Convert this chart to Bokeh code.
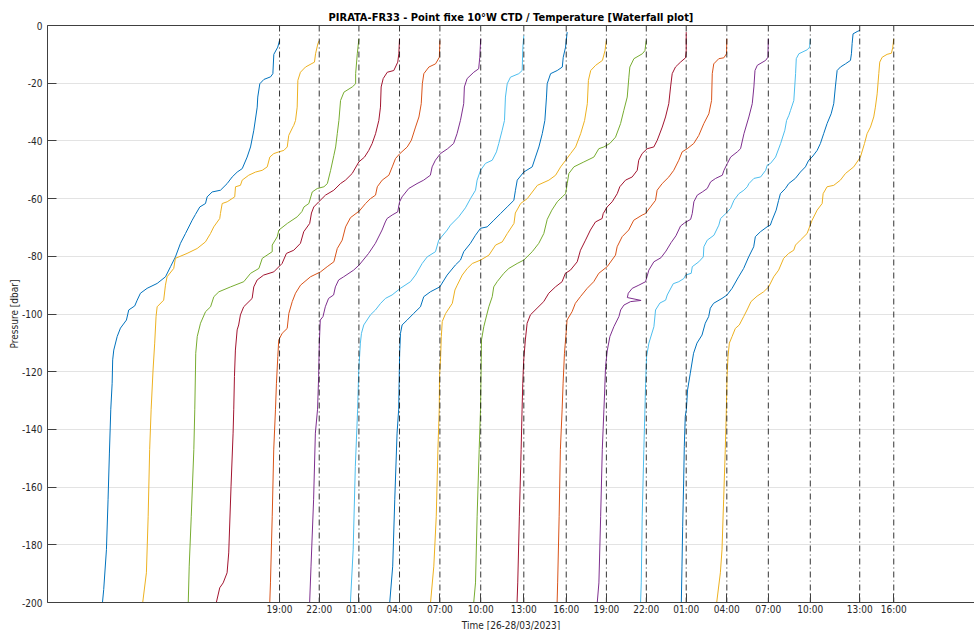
from bokeh.plotting import figure
from bokeh.models import Range1d, FixedTicker, LinearAxis, Title
from bokeh.embed import file_html
from bokeh.resources import INLINE

# ---------------- data ----------------
# profile times, minutes since 26/03/2023 00:00
profile_time_min = [1140, 1315, 1490, 1669, 1847, 2027, 2217, 2404,
                    2581, 2757, 2933, 3112, 3295, 3480, 3698, 3848]
tick_labels = ["19:00", "22:00", "01:00", "04:00", "07:00", "10:00", "13:00", "16:00",
               "19:00", "22:00", "01:00", "04:00", "07:00", "10:00", "13:00", "16:00"]

# each profile: (pressure [dbar], horizontal waterfall offset [h] from profile time)
prof_01 = [(-5.2, 0), (-7.5, -0.13), (-10, -0.42), (-16.7, -0.49), (-17.8, -0.66), (-18.7, -1.15),
           (-20.2, -1.45), (-24.8, -1.60), (-28.3, -1.64), (-36.3, -1.89), (-42.1, -2.13), (-45.6, -2.38),
           (-49.6, -2.74), (-50.8, -3.11), (-52.5, -3.48), (-54.8, -3.85), (-57.1, -4.34), (-57.7, -4.95),
           (-59.4, -5.32), (-61.7, -5.44), (-62.9, -5.86), (-65.5, -6.18), (-67.5, -6.42), (-72.1, -6.91),
           (-75.5, -7.28), (-80.2, -7.65), (-83.6, -8.01), (-87.1, -8.38), (-89.4, -8.99), (-91.1, -9.73),
           (-92.8, -10.22), (-95.2, -10.46), (-97.2, -10.64), (-98.6, -11.08), (-102.1, -11.25),
           (-104.9, -11.69), (-107.8, -11.93), (-112.5, -12.18), (-115.9, -12.26), (-124, -12.30),
           (-133, -12.40), (-148.2, -12.50), (-164.4, -12.60), (-181.7, -12.72), (-195.5, -12.92),
           (-200, -13.01)]
prof_02 = [(-5.2, 0), (-6.3, -0.10), (-9.8, -0.27), (-12.7, -0.35), (-14.4, -1.01), (-16.2, -1.38),
           (-19.0, -1.57), (-28.3, -1.62), (-32.9, -1.74), (-34.6, -1.87), (-35.2, -1.94), (-38.1, -2.24),
           (-42.1, -2.35), (-43.3, -2.60), (-43.8, -2.97), (-44.4, -3.34), (-45.6, -3.63), (-49.0, -3.82),
           (-50.2, -4.19), (-50.8, -4.68), (-51.9, -5.18), (-53.6, -5.66), (-55.4, -5.79), (-55.9, -6.15),
           (-59.4, -6.21), (-61.1, -6.76), (-61.7, -7.13), (-65.2, -7.26), (-66.9, -7.31), (-69.8, -7.75),
           (-72.1, -7.99), (-75.0, -8.36), (-77.3, -8.97), (-79.0, -9.71), (-80.7, -10.57), (-84.2, -10.69),
           (-87.1, -11.18), (-90.0, -11.30), (-95.2, -11.43), (-97.5, -11.91), (-100.9, -11.99),
           (-110.1, -12.09), (-119.4, -12.21), (-133, -12.35), (-147, -12.46), (-170.1, -12.57),
           (-189.7, -12.70), (-200, -12.97)]
prof_03 = [(-4.6, 0), (-9.8, -0.12), (-16.7, -0.24), (-20.2, -0.24), (-21.3, -0.49), (-23.1, -1.10),
           (-26, -1.35), (-32.9, -1.47), (-37.5, -1.59), (-42.1, -1.71), (-45.0, -1.84), (-50.2, -2.08),
           (-54.8, -2.32), (-55.9, -2.57), (-56.5, -3.06), (-57.7, -3.43), (-61.7, -3.68), (-62.9, -4.04),
           (-64.5, -4.19), (-66.3, -4.53), (-68.6, -5.26), (-70.9, -5.88), (-73.2, -6.00), (-76.1, -6.37),
           (-78.4, -6.37), (-80.7, -7.10), (-84.2, -7.35), (-85.9, -7.96), (-88.8, -8.46), (-90.6, -9.43),
           (-92.3, -10.29), (-94.0, -10.66), (-97.5, -10.90), (-99.2, -11.27), (-103.2, -11.64),
           (-107.8, -11.88), (-113.6, -11.99), (-119.4, -12.01), (-133, -12.06), (-147, -12.13),
           (-170.1, -12.32), (-187.4, -12.47), (-200, -12.54)]
prof_04 = [(-4.6, 0), (-9.8, -0.05), (-12.7, -0.13), (-15.6, -0.42), (-16.2, -0.90), (-18.4, -1.20),
           (-21.3, -1.35), (-28.3, -1.40), (-32.9, -1.52), (-37.5, -1.76), (-40.9, -2.01), (-43.3, -2.26),
           (-45.6, -2.57), (-47.3, -2.99), (-51.3, -3.48), (-53.6, -3.97), (-54.8, -4.34), (-57.1, -4.83),
           (-58.8, -5.44), (-61.1, -5.93), (-62.9, -6.30), (-65.0, -6.47), (-68.6, -6.60), (-71.5, -7.04),
           (-75.5, -7.28), (-77.9, -7.77), (-79.0, -8.31), (-82.5, -8.63), (-85.4, -9.24), (-86.5, -9.98),
           (-88.2, -10.46), (-90.6, -10.71), (-94.6, -10.83), (-97.5, -11.45), (-100.3, -11.69),
           (-103.8, -11.82), (-105.5, -11.93), (-112.5, -12.06), (-121.7, -12.13), (-133, -12.18),
           (-141.3, -12.23), (-159.7, -12.38), (-182.8, -12.55), (-189.7, -12.67), (-193.2, -12.96),
           (-194.9, -13.21), (-200, -13.46)]
prof_05 = [(-5.2, 0), (-11.0, -0.04), (-13.3, -0.32), (-14.4, -0.81), (-16.7, -1.18), (-20.2, -1.29),
           (-27.1, -1.37), (-31.7, -1.54), (-35.2, -1.79), (-39.8, -2.10), (-42.1, -2.40), (-44.4, -2.94),
           (-46.1, -3.26), (-49.0, -3.50), (-51.9, -3.75), (-53.6, -4.24), (-55.9, -4.60), (-58.8, -4.73),
           (-60.0, -5.10), (-61.7, -5.46), (-64.3, -5.92), (-66.6, -6.57), (-69.8, -6.93), (-74.4, -7.18),
           (-77.3, -7.54), (-81.9, -7.79), (-83.6, -8.28), (-85.4, -8.77), (-87.1, -9.51), (-90.0, -10.24),
           (-92.8, -10.61), (-95.7, -10.85), (-99.8, -11.10), (-105.0, -11.22), (-106.7, -11.59),
           (-109.0, -11.84), (-114.8, -11.91), (-124.0, -12.01), (-133, -12.08), (-147.1, -12.21),
           (-170.1, -12.32), (-193.2, -12.45), (-200, -12.50)]
prof_06 = [(-4.6, 0), (-11, -0.07), (-15, -0.15), (-16.2, -0.51), (-18.4, -1.00), (-21.3, -1.20),
           (-27.1, -1.25), (-32.9, -1.49), (-37.5, -1.74), (-40.9, -1.99), (-42.7, -2.43), (-44.4, -2.96),
           (-46.7, -3.33), (-49.0, -3.57), (-51.9, -3.70), (-53.6, -4.19), (-54.8, -4.68), (-56.5, -5.29),
           (-59.4, -5.78), (-61.1, -5.96), (-64.6, -6.10), (-65.7, -6.51), (-66.9, -6.88), (-68.1, -7.01),
           (-70.9, -7.25), (-75.5, -7.74), (-79.0, -8.24), (-83.0, -8.93), (-84.8, -9.34), (-87.1, -10.07),
           (-88.2, -10.44), (-90.6, -10.68), (-93.4, -10.81), (-94.6, -11.18), (-97.5, -11.42),
           (-100.9, -11.59), (-102.1, -11.79), (-110.1, -11.86), (-121.7, -11.91), (-133, -11.99),
           (-141.3, -12.15), (-164.4, -12.28), (-187.4, -12.47), (-200, -12.57)]
prof_07 = [(-3.5, 0), (-7.5, -0.07), (-15.6, -0.12), (-16.7, -0.37), (-17.9, -0.98), (-20.2, -1.22),
           (-24.8, -1.35), (-32.9, -1.42), (-36.3, -1.59), (-40.9, -1.84), (-43.8, -2.01), (-46.7, -2.32),
           (-47.8, -2.82), (-50.2, -3.18), (-53.6, -3.43), (-57.1, -3.55), (-60.0, -3.92), (-63.2, -4.29),
           (-66.3, -4.78), (-69.2, -5.39), (-70.9, -5.63), (-74.4, -6.25), (-78.4, -6.49), (-80.2, -7.10),
           (-82.5, -7.47), (-86.5, -7.96), (-88.8, -8.33), (-91.1, -9.07), (-93.4, -9.68), (-94.6, -10.17),
           (-96.4, -10.54), (-98.6, -10.90), (-100.3, -11.27), (-103.8, -11.76), (-106.7, -11.93),
           (-110.1, -12.01), (-119.4, -12.13), (-133, -12.21), (-152.8, -12.38), (-181.7, -12.54),
           (-200, -12.74)]
prof_08 = [(-2.3, 0.07), (-7.5, -0.05), (-11, -0.22), (-14.4, -0.29), (-15.6, -0.66), (-16.7, -1.15),
           (-20.2, -1.40), (-24.8, -1.45), (-32.9, -1.57), (-37.5, -1.76), (-42.1, -2.01), (-45.6, -2.26),
           (-49, -2.50), (-50.8, -3.12), (-53.6, -3.60), (-57.1, -3.73), (-60.6, -3.85), (-62.9, -4.34),
           (-65.2, -4.83), (-67.5, -5.32), (-69.8, -5.81), (-70.3, -6.30), (-72.7, -6.67), (-75.5, -7.04),
           (-78.4, -7.53), (-81.3, -7.77), (-83.0, -8.14), (-86.5, -8.75), (-90.6, -9.29), (-92.3, -9.98),
           (-94.0, -10.47), (-97.5, -10.71), (-99.8, -11.21), (-102.1, -11.69), (-103.8, -12.06),
           (-106.7, -12.18), (-113.6, -12.24), (-124.0, -12.28), (-133, -12.31), (-141.3, -12.43),
           (-164.4, -12.60), (-187.4, -12.75), (-200, -12.97)]
prof_09 = [(-5.2, 0), (-8.7, -0.10), (-12.1, -0.29), (-13.8, -0.79), (-15.6, -1.15), (-19.0, -1.32),
           (-27.1, -1.40), (-32.9, -1.60), (-37.5, -1.89), (-42.1, -2.26), (-44.4, -2.63), (-46.7, -2.99),
           (-49.0, -3.36), (-51.9, -3.73), (-53.6, -4.22), (-55.4, -5.07), (-60.0, -5.81), (-61.7, -6.30),
           (-65.0, -6.69), (-68.6, -6.79), (-72.1, -7.28), (-75.0, -7.65), (-76.1, -8.14), (-79.6, -8.63),
           (-81.3, -9.24), (-82.5, -9.85), (-84.2, -10.22), (-86.5, -10.59), (-90.0, -10.96), (-91.7, -11.13),
           (-96.3, -11.32), (-99.8, -11.81), (-102.6, -12.06), (-107.8, -12.13), (-114.8, -12.18),
           (-121.7, -12.26), (-133, -12.28), (-147.1, -12.38), (-170.1, -12.50), (-187.4, -12.68),
           (-200, -12.92)]
prof_10 = [(-5.2, 0), (-8.7, -0.10), (-9.8, -0.29), (-11.5, -0.91), (-14.4, -1.21), (-17.9, -1.28),
           (-24.8, -1.40), (-29.4, -1.65), (-34.0, -1.89), (-38.7, -2.26), (-40.9, -2.68), (-42.1, -3.12),
           (-42.7, -3.49), (-45.6, -3.85), (-47.3, -4.59), (-49.0, -5.32), (-51.3, -5.69), (-54.8, -5.81),
           (-58.3, -5.93), (-59.4, -6.18), (-61.1, -6.54), (-64.0, -6.94), (-67.2, -7.28), (-72.1, -7.53),
           (-75.5, -7.90), (-78.4, -8.38), (-81.3, -9.00), (-82.5, -9.49), (-84.2, -10.10), (-85.9, -10.47),
           (-88.8, -10.96), (-90.6, -11.21), (-94.0, -11.32), (-97.5, -11.57), (-102.1, -11.82),
           (-104.4, -11.94), (-109.0, -12.11), (-115.9, -12.13), (-133, -12.18), (-147, -12.28),
           (-170.1, -12.43), (-193.2, -12.55), (-200, -12.68)]
prof_11 = [(-2.3, 0), (-8.7, 0), (-11.2, -0.05), (-12.7, -0.42), (-13.8, -0.66), (-14.4, -0.79),
           (-16.7, -1.03), (-21.3, -1.15), (-27.1, -1.28), (-31.7, -1.52), (-35.2, -1.76), (-39.8, -2.13),
           (-42.1, -2.38), (-42.7, -2.87), (-44.4, -3.24), (-46.7, -3.49), (-50.2, -3.60), (-52.5, -3.97),
           (-53.6, -4.46), (-55.9, -4.88), (-58.3, -5.07), (-61.1, -5.44), (-62.9, -5.81), (-65.2, -6.10),
           (-66.9, -6.18), (-68.1, -6.67), (-70.9, -7.04), (-74.4, -7.40), (-77.9, -7.77), (-81.9, -8.01),
           (-84.8, -8.51), (-85.9, -8.88), (-88.8, -9.12), (-90.6, -9.61), (-92.8, -10.10), (-95.7, -10.47),
           (-98.0, -10.96), (-100.3, -11.45), (-103.2, -11.69), (-109.0, -11.82), (-115.9, -11.94),
           (-124.0, -12.01), (-133, -12.06), (-147, -12.13), (-170.1, -12.26), (-193.2, -12.38),
           (-200, -12.43)]
prof_12 = [(-4.6, 0), (-9.8, -0.02), (-11.2, -0.22), (-11.5, -0.59), (-13.3, -0.96), (-16.7, -1.07),
           (-26.0, -1.12), (-30.6, -1.32), (-34.0, -1.69), (-38.1, -2.06), (-40.9, -2.43), (-42.7, -2.91),
           (-43.8, -3.28), (-46.7, -3.53), (-50.2, -3.90), (-52.5, -4.26), (-54.8, -4.75), (-57.1, -5.12),
           (-60.6, -5.24), (-62.9, -5.61), (-65.2, -5.98), (-65.7, -6.22), (-67.5, -6.84), (-70.9, -7.21),
           (-73.2, -7.69), (-76.7, -8.06), (-79.6, -8.18), (-83.6, -8.79), (-85.9, -9.41), (-88.8, -9.78),
           (-91.1, -10.26), (-94.0, -10.76), (-96.3, -11.13), (-99.2, -11.37), (-102.1, -11.74),
           (-106.7, -11.81), (-113.6, -11.93), (-124.0, -12.03), (-133, -12.10), (-147, -12.23),
           (-170.1, -12.32), (-193.2, -12.43), (-200, -12.47)]
prof_13 = [(-4.6, 0), (-11, -0.03), (-12.1, -0.20), (-13.8, -0.81), (-15.6, -0.98), (-21.3, -1.06),
           (-27.1, -1.18), (-31.7, -1.43), (-37.5, -1.79), (-42.7, -2.04), (-43.8, -2.28), (-45.6, -2.77),
           (-47.8, -3.01), (-50.2, -3.26), (-51.9, -3.38), (-53.0, -3.87), (-54.2, -4.24), (-56.5, -4.49),
           (-57.7, -4.85), (-58.8, -5.22), (-61.1, -5.47), (-65.2, -5.59), (-67.2, -5.71), (-68.4, -6.15),
           (-69.5, -6.45), (-72.9, -6.79), (-75.3, -7.15), (-78.2, -7.52), (-80.5, -7.89), (-81.9, -8.41),
           (-84.8, -8.78), (-88.8, -9.02), (-90.0, -9.51), (-91.1, -10.00), (-92.8, -10.29), (-94.3, -10.36),
           (-95.3, -9.35), (-95.7, -10.12), (-96.9, -10.61), (-98.6, -10.85), (-100.9, -10.98),
           (-104.4, -11.35), (-107.8, -11.64), (-112.5, -11.83), (-118.2, -11.96), (-127.4, -12.03),
           (-133, -12.08), (-147, -12.20), (-170.1, -12.32), (-193.2, -12.45), (-200, -12.57)]
prof_14 = [(-4.6, 0), (-7.5, -0.05), (-8.4, -0.22), (-9.8, -0.84), (-11.5, -1.03), (-16.7, -1.08),
           (-26.0, -1.21), (-29.4, -1.45), (-31.1, -1.57), (-32.9, -1.74), (-36.3, -1.87), (-40.9, -2.18),
           (-45.6, -2.55), (-47.8, -2.92), (-48.4, -3.16), (-50.2, -3.28), (-52.5, -3.65), (-53.0, -4.14),
           (-54.8, -4.51), (-55.9, -4.63), (-57.1, -4.88), (-58.3, -5.25), (-60.6, -5.61), (-63.4, -5.86),
           (-65.0, -6.17), (-66.9, -6.59), (-69.2, -6.72), (-72.7, -7.08), (-74.4, -7.57), (-76.7, -7.82),
           (-80.2, -7.86), (-81.9, -8.19), (-83.6, -8.67), (-85.9, -8.75), (-86.5, -9.16), (-87.7, -9.29),
           (-88.8, -9.66), (-89.5, -10.07), (-93.4, -10.51), (-95.2, -10.63), (-96.2, -11.05),
           (-98.6, -11.37), (-104.4, -11.49), (-110.1, -11.86), (-114.8, -12.03), (-124.0, -12.10),
           (-133, -12.15), (-147, -12.23), (-170.1, -12.35), (-193.2, -12.42), (-200, -12.47)]
prof_15 = [(-1.7, 0), (-2.1, -0.19), (-2.9, -0.49), (-6.3, -0.56), (-9.8, -0.61), (-12.1, -0.68),
           (-13.3, -1.05), (-14.4, -1.42), (-15.6, -1.66), (-21.3, -1.79), (-27.1, -1.91), (-30.6, -2.10),
           (-34.0, -2.40), (-37.5, -2.65), (-40.9, -2.89), (-43.3, -3.13), (-45.6, -3.50), (-46.7, -3.75),
           (-49.0, -3.99), (-50.8, -4.36), (-53.0, -4.73), (-54.8, -5.22), (-56.5, -5.46), (-58.3, -5.83),
           (-60.6, -5.96), (-64.0, -6.14), (-67.5, -6.44), (-69.2, -6.57), (-69.8, -6.81), (-71.5, -7.30),
           (-73.2, -7.67), (-76.7, -7.79), (-80.2, -8.16), (-84.2, -8.53), (-87.1, -8.90), (-91.1, -9.38),
           (-93.4, -9.75), (-94.6, -10.12), (-96.3, -10.74), (-98.0, -10.98), (-100.9, -11.10),
           (-103.2, -11.35), (-107.3, -11.59), (-110.1, -11.96), (-113.6, -12.21), (-120.5, -12.45),
           (-126.3, -12.65), (-133.2, -12.74), (-135.5, -12.82), (-145.9, -12.89), (-158.6, -12.94),
           (-173.6, -13.01), (-187.4, -13.06), (-200, -13.11)]
prof_16 = [(-4.6, 0), (-7.5, -0.07), (-9.6, -0.17), (-10.0, -0.49), (-11.0, -0.85), (-12.7, -1.03),
           (-16.7, -1.10), (-23.7, -1.22), (-28.3, -1.35), (-31.7, -1.47), (-35.2, -1.71), (-37.5, -1.96),
           (-40.9, -2.15), (-45.6, -2.45), (-49.0, -2.94), (-51.3, -3.55), (-53.6, -3.92), (-55.4, -4.41),
           (-55.9, -4.90), (-58.3, -5.19), (-61.7, -5.26), (-64.0, -5.63), (-67.5, -6.00), (-72.1, -6.37),
           (-74.4, -6.86), (-76.1, -7.22), (-77.9, -7.35), (-79.0, -7.72), (-80.7, -8.09), (-84.8, -8.46),
           (-87.1, -8.82), (-90.6, -9.19), (-92.3, -9.56), (-93.8, -10.04), (-95.7, -10.49), (-98.6, -10.78),
           (-100.9, -11.03), (-103.8, -11.35), (-105.0, -11.64), (-107.8, -11.88), (-110.1, -12.08),
           (-114.8, -12.18), (-121.7, -12.25), (-133, -12.30), (-147, -12.38), (-164.4, -12.50),
           (-181.7, -12.62), (-189.7, -12.74), (-200, -13.01)]

profiles = [prof_01, prof_02, prof_03, prof_04, prof_05, prof_06, prof_07, prof_08,
            prof_09, prof_10, prof_11, prof_12, prof_13, prof_14, prof_15, prof_16]

line_colors = ["#0072BD", "#EDB120", "#77AC30", "#A2142F", "#D95319", "#7E2F8E", "#4DBEEE"]

y_ticks = list(range(-200, 1, 20))

# ---------------- figure ----------------
FONT = "DejaVu Sans Condensed, DejaVu Sans, sans-serif"
AXC = "#404040"
TXT = "#262626"

p = figure(width=974, height=630,
           x_range=Range1d(117, 4204), y_range=Range1d(-200, 0),
           output_backend="svg", toolbar_location=None,
           min_border_left=47, min_border_right=0,
           min_border_top=25, min_border_bottom=27)
p.outline_line_color = None
p.background_fill_color = "white"
p.border_fill_color = "white"

p.title.text = "PIRATA-FR33 - Point fixe 10\u00b0W CTD / Temperature [Waterfall plot]"
p.title.align = "center"
p.title.offset = 6
p.title.text_font = FONT
p.title.text_font_size = "11px"
p.title.text_font_style = "bold"
p.title.text_color = "#000000"
p.title.standoff = 4

# x axis
xa = p.xaxis[0]
xa.ticker = FixedTicker(ticks=profile_time_min)
xa.major_label_overrides = {t: lab for t, lab in zip(profile_time_min, tick_labels)}
xa.major_tick_in = 9
xa.major_tick_out = 0
xa.minor_tick_line_color = None
xa.axis_line_color = AXC
xa.major_tick_line_color = AXC
xa.major_label_text_font = FONT
xa.major_label_text_font_size = "10px"
xa.major_label_text_color = TXT
xa.major_label_standoff = 1

# y axis
ya = p.yaxis[0]
ya.ticker = FixedTicker(ticks=y_ticks)
ya.major_label_overrides = {v: str(v) for v in y_ticks}
ya.major_tick_in = 9
ya.major_tick_out = 0
ya.minor_tick_line_color = None
ya.axis_line_color = AXC
ya.major_tick_line_color = AXC
ya.major_label_text_font = FONT
ya.major_label_text_font_size = "10px"
ya.major_label_text_color = TXT
ya.major_label_standoff = 5
ya.axis_label = "Pressure [dbar]"
ya.axis_label_text_font = FONT
ya.axis_label_text_font_size = "10px"
ya.axis_label_text_font_style = "normal"
ya.axis_label_text_color = TXT
ya.axis_label_standoff = -1

# top box line
top_axis = LinearAxis(ticker=FixedTicker(ticks=[]), axis_line_color=AXC,
                      major_tick_line_color=None, minor_tick_line_color=None,
                      major_label_text_font_size="0px", major_label_standoff=0)
p.add_layout(top_axis, "above")

# x axis label as a below title (slightly right of frame centre as in the original)
p.add_layout(Title(text="Time [26-28/03/2023]", align="center", offset=6,
                   text_font=FONT, text_font_size="10px", text_font_style="normal",
                   text_color=TXT, standoff=0), "below")

p.xgrid.visible = False
p.ygrid.grid_line_color = "#e3e3e3"
p.ygrid.grid_line_width = 1

# profiles
for i, (t0, prof) in enumerate(zip(profile_time_min, profiles)):
    pres = [pp for pp, _ in prof]
    xs = [t0 + 60.0 * dx for _, dx in prof]
    p.line(xs, pres, line_color=line_colors[i % len(line_colors)], line_width=1)

# dash-dot vertical lines at profile times
p.segment(x0=profile_time_min, y0=[0] * len(profile_time_min),
          x1=profile_time_min, y1=[-200] * len(profile_time_min),
          line_color="#000000", line_width=1, line_dash="6 3 1 3", line_alpha=0.8)

open("out.html", "w").write(file_html(p, INLINE))
